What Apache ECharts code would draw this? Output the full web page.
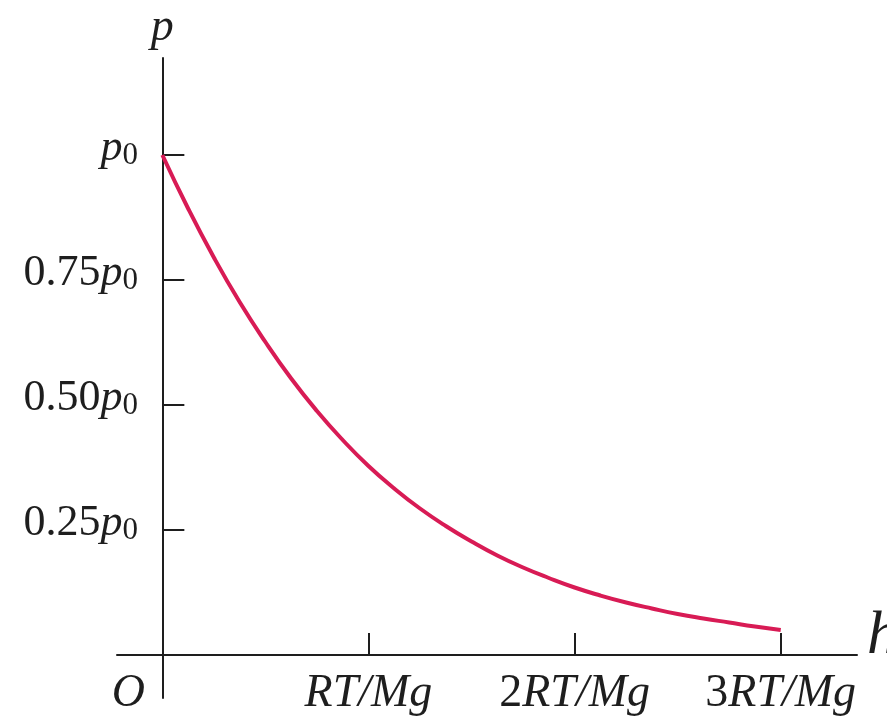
<!DOCTYPE html>
<html>
<head>
<meta charset="utf-8">
<script src="https://cdn.jsdelivr.net/npm/echarts@6/dist/echarts.min.js"></script>
<style>
html,body{margin:0;padding:0;background:#fff;}
#chart{width:887px;height:721px;}
</style>
</head>
<body>
<div id="chart"></div>
<script>
// h in units of RT/Mg, p in units of p0
var hValues=[0,0.125,0.25,0.375,0.5,0.625,0.75,0.875,1,1.125,1.25,1.375,1.5,1.625,1.75,1.875,2,2.125,2.25,2.375,2.5,2.625,2.75,2.875,3];
var pValues=[1.000,0.893,0.795,0.706,0.626,0.553,0.488,0.430,0.378,0.333,0.293,0.258,0.227,0.199,0.175,0.154,0.135,0.119,0.105,0.093,0.082,0.073,0.065,0.057,0.050];
var xTicks=[1,2,3];
var xTickLabels=['{i|RT/Mg}','{n|2}{i|RT/Mg}','{n|3}{i|RT/Mg}'];
var yTicks=[0.25,0.5,0.75,1];
var yTickLabels=['{n|0.25}{i|p}{s|0}','{n|0.50}{i|p}{s|0}','{n|0.75}{i|p}{s|0}','{i|p}{s|0}'];

var serif='"Liberation Serif","DejaVu Serif",serif';
var ink='#1e1e1e';

var points=[];
for(var i=0;i<hValues.length;i++){
	points.push([hValues[i],pValues[i]]);
}

var dom=document.getElementById('chart');
var myChart=echarts.init(dom,null,{renderer:'canvas'});
var option={
	backgroundColor:'#fff',
	animation:false,
	grid:{left:117,right:30,top:58,bottom:23,containLabel:false,outerBoundsMode:'none'},
	xAxis:{
		type:'value',
		min:-0.22,
		max:3.37,
		name:'h',
		nameLocation:'end',
		nameGap:10,
		nameTextStyle:{fontFamily:serif,fontStyle:'italic',fontSize:62,color:ink,verticalAlign:'bottom',lineHeight:36},
		axisLine:{onZero:true,lineStyle:{color:ink,width:2}},
		axisTick:{show:true,inside:true,length:22,customValues:xTicks,lineStyle:{color:ink,width:2}},
		axisLabel:{
			customValues:[0].concat(xTicks),
			margin:-27,
			fontFamily:serif,
			fontSize:46,
			color:ink,
			formatter:function(v){
				if(v===0) return '{o|O}';
				return xTickLabels[xTicks.indexOf(v)];
			},
			rich:{
				i:{fontFamily:serif,fontStyle:'italic',fontSize:46,color:ink},
				n:{fontFamily:serif,fontSize:46,color:ink},
				o:{fontFamily:serif,fontStyle:'italic',fontSize:46,color:ink,padding:[0,68,0,0]}
			}
		},
		splitLine:{show:false}
	},
	yAxis:{
		type:'value',
		min:-0.086,
		max:1.194,
		name:'p',
		nameLocation:'end',
		nameGap:7,
		nameTextStyle:{fontFamily:serif,fontStyle:'italic',fontSize:46,color:ink,align:'center'},
		axisLine:{onZero:true,lineStyle:{color:ink,width:2}},
		axisTick:{show:true,inside:true,length:22,customValues:yTicks,lineStyle:{color:ink,width:2}},
		axisLabel:{
			customValues:yTicks,
			margin:-21,
			fontFamily:serif,
			fontSize:44,
			color:ink,
			padding:[0,0,14,0],
			formatter:function(v){
				return yTickLabels[yTicks.indexOf(v)];
			},
			rich:{
				n:{fontFamily:serif,fontSize:44,color:ink},
				i:{fontFamily:serif,fontStyle:'italic',fontSize:44,color:ink},
				s:{fontFamily:serif,fontSize:31,color:ink,padding:[16,0,0,0]}
			}
		},
		splitLine:{show:false}
	},
	series:[
		{
			type:'line',
			data:points,
			smooth:true,
			showSymbol:false,
			lineStyle:{color:'#d81b55',width:4}
		}
	]
};
myChart.setOption(option);
</script>
</body>
</html>
